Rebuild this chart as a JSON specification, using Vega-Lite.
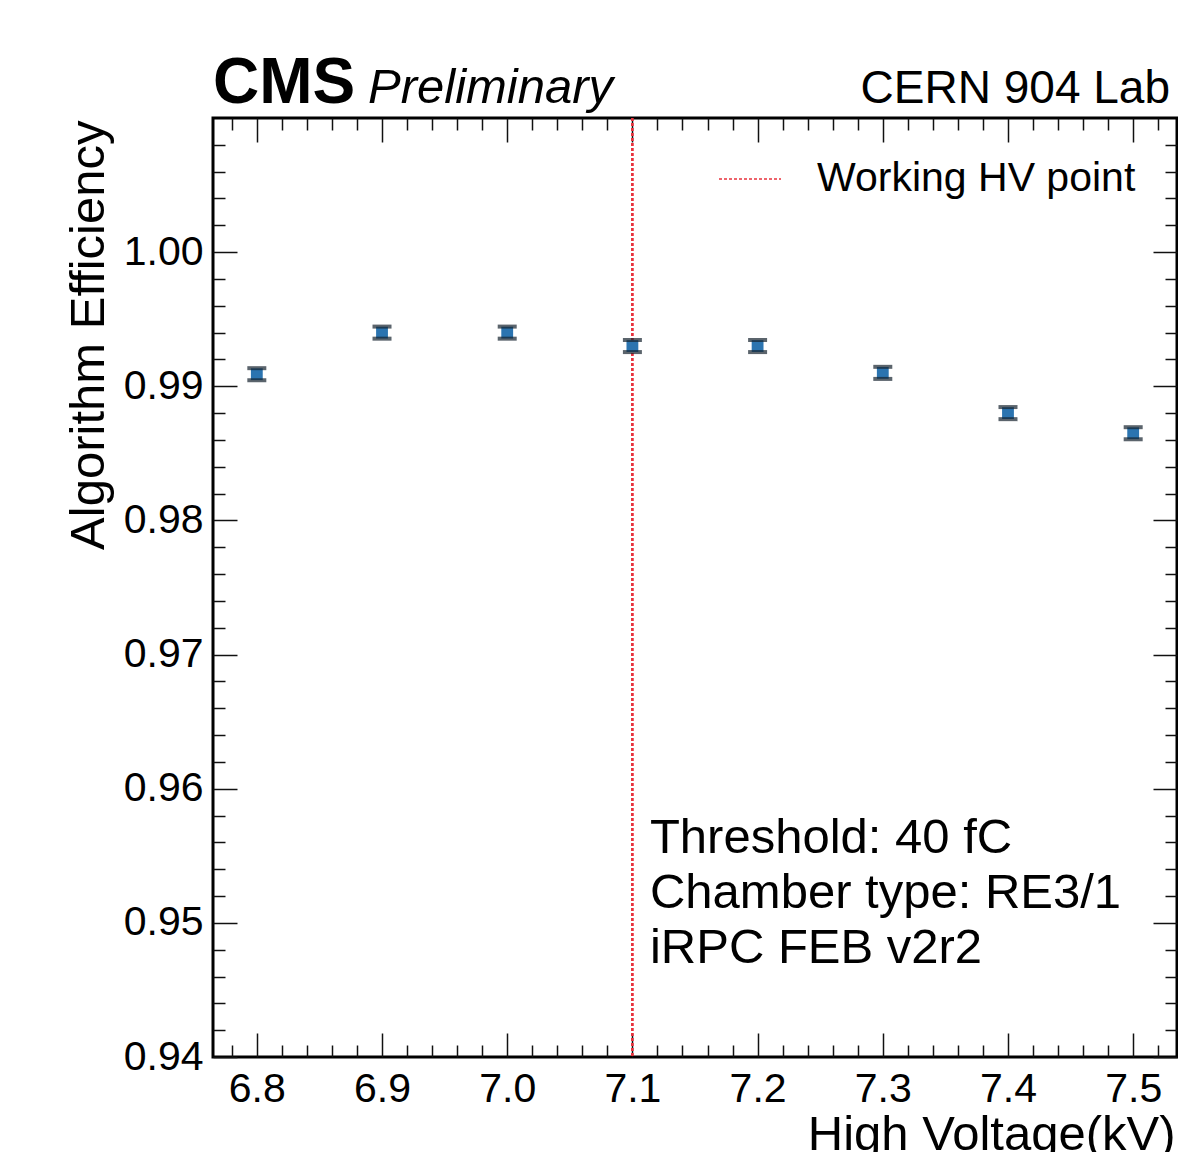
{
  "$schema": "https://vega.github.io/schema/vega-lite/v6.json",
  "width": 964,
  "height": 939,
  "autosize": {"type": "none"},
  "padding": {"left": 213, "top": 118, "right": 1, "bottom": 95},
  "background": "white",
  "config": {
    "font": "Liberation Sans",
    "view": {"stroke": "black", "strokeWidth": 3},
    "axis": {"domain": false, "grid": false, "labelColor": "black", "titleColor": "black", "tickColor": "#111111", "tickWidth": 1.5, "titleFontWeight": "normal"}
  },
  "datasets": {
    "eff": [
      {"hv": 6.8, "eff": 0.9909, "lo": 0.99045, "hi": 0.99135},
      {"hv": 6.9, "eff": 0.9940, "lo": 0.99355, "hi": 0.99445},
      {"hv": 7.0, "eff": 0.9940, "lo": 0.99355, "hi": 0.99445},
      {"hv": 7.1, "eff": 0.9930, "lo": 0.99255, "hi": 0.99345},
      {"hv": 7.2, "eff": 0.9930, "lo": 0.99255, "hi": 0.99345},
      {"hv": 7.3, "eff": 0.9910, "lo": 0.99055, "hi": 0.99145},
      {"hv": 7.4, "eff": 0.9880, "lo": 0.98755, "hi": 0.98845},
      {"hv": 7.5, "eff": 0.9865, "lo": 0.98605, "hi": 0.98695}
    ]
  },
  "resolve": {"scale": {"x": "shared", "y": "shared"}, "axis": {"x": "independent", "y": "independent"}},
  "layer": [
    {
      "data": {"name": "eff"},
      "mark": {"type": "rule", "strokeDash": [3, 2], "strokeWidth": 1.5},
      "encoding": {
        "x": {"datum": 7.1, "type": "quantitative", "scale": {"domain": [6.765, 7.535], "nice": false, "zero": false}, "axis": null},
        "color": {
          "datum": "Working HV point",
          "type": "nominal",
          "scale": {"range": ["#e8323c"]},
          "legend": {
            "title": null, "orient": "none", "legendX": 505, "legendY": 29,
            "symbolType": "stroke", "symbolSize": 3844, "symbolStrokeWidth": 1.5, "symbolDash": [3, 2],
            "labelFontSize": 41, "labelOffset": 35, "labelColor": "black", "padding": 0, "labelLimit": 600
          }
        }
      }
    },
    {
      "data": {"name": "eff"},
      "mark": {"type": "point", "shape": "square", "filled": true, "size": 140, "color": "#2b74b0", "opacity": 1},
      "encoding": {
        "x": {"field": "hv", "type": "quantitative", "scale": {"domain": [6.765, 7.535], "nice": false, "zero": false},
          "axis": {"orient": "bottom", "ticks": false, "values": [6.8, 6.9, 7.0, 7.1, 7.2, 7.3, 7.4, 7.5], "format": ".1f", "labelFontSize": 41, "labelPadding": 12,
            "title": "High Voltage(kV)", "titleFontSize": 49, "titleX": 962, "titleY": 92, "titleAlign": "right", "titleBaseline": "alphabetic", "labelFlush": false}},
        "y": {"field": "eff", "type": "quantitative", "scale": {"domain": [0.94, 1.01], "nice": false, "zero": false},
          "axis": {"orient": "left", "ticks": false, "values": [0.94, 0.95, 0.96, 0.97, 0.98, 0.99, 1.0], "format": ".2f", "labelFontSize": 41, "labelPadding": 10,
            "title": "Algorithm Efficiency", "titleFontSize": 49, "titleX": -125, "titleY": 2, "titleAngle": -90, "titleAlign": "right", "titleBaseline": "middle", "labelFlush": false}}
      }
    },
    {
      "data": {"name": "eff"},
      "mark": {"type": "tick", "orient": "horizontal", "size": 19, "thickness": 4, "color": "#15222e"},
      "encoding": {
        "x": {"field": "hv", "type": "quantitative", "scale": {"domain": [6.765, 7.535], "nice": false, "zero": false},
          "axis": {"orient": "bottom", "labels": false, "title": null, "tickSize": -24, "values": [6.8, 6.9, 7.0, 7.1, 7.2, 7.3, 7.4, 7.5]}},
        "y": {"field": "lo", "type": "quantitative", "scale": {"domain": [0.94, 1.01], "nice": false, "zero": false},
          "axis": {"orient": "left", "labels": false, "title": null, "tickSize": -24, "values": [0.94, 0.95, 0.96, 0.97, 0.98, 0.99, 1.0]}}
      }
    },
    {
      "data": {"name": "eff"},
      "mark": {"type": "tick", "orient": "horizontal", "size": 19, "thickness": 4, "color": "#15222e"},
      "encoding": {
        "x": {"field": "hv", "type": "quantitative", "scale": {"domain": [6.765, 7.535], "nice": false, "zero": false},
          "axis": {"orient": "bottom", "labels": false, "title": null, "tickSize": -12,
            "values": [6.78, 6.82, 6.84, 6.86, 6.88, 6.92, 6.94, 6.96, 6.98, 7.02, 7.04, 7.06, 7.08, 7.12, 7.14, 7.16, 7.18, 7.22, 7.24, 7.26, 7.28, 7.32, 7.34, 7.36, 7.38, 7.42, 7.44, 7.46, 7.48, 7.52]}},
        "y": {"field": "hi", "type": "quantitative", "scale": {"domain": [0.94, 1.01], "nice": false, "zero": false},
          "axis": {"orient": "left", "labels": false, "title": null, "tickSize": -12,
            "values": [0.942, 0.944, 0.946, 0.948, 0.952, 0.954, 0.956, 0.958, 0.962, 0.964, 0.966, 0.968, 0.972, 0.974, 0.976, 0.978, 0.982, 0.984, 0.986, 0.988, 0.992, 0.994, 0.996, 0.998, 1.002, 1.004, 1.006, 1.008]}}
      }
    },
    {
      "data": {"name": "eff"},
      "mark": {"type": "point", "opacity": 0},
      "encoding": {
        "x": {"field": "hv", "type": "quantitative", "scale": {"domain": [6.765, 7.535], "nice": false, "zero": false},
          "axis": {"orient": "top", "labels": false, "title": null, "tickSize": -24, "values": [6.8, 6.9, 7.0, 7.1, 7.2, 7.3, 7.4, 7.5]}},
        "y": {"field": "eff", "type": "quantitative", "scale": {"domain": [0.94, 1.01], "nice": false, "zero": false},
          "axis": {"orient": "right", "labels": false, "title": null, "tickSize": -24, "values": [0.94, 0.95, 0.96, 0.97, 0.98, 0.99, 1.0]}}
      }
    },
    {
      "data": {"name": "eff"},
      "mark": {"type": "point", "opacity": 0},
      "encoding": {
        "x": {"field": "hv", "type": "quantitative", "scale": {"domain": [6.765, 7.535], "nice": false, "zero": false},
          "axis": {"orient": "top", "labels": false, "title": null, "tickSize": -12,
            "values": [6.78, 6.82, 6.84, 6.86, 6.88, 6.92, 6.94, 6.96, 6.98, 7.02, 7.04, 7.06, 7.08, 7.12, 7.14, 7.16, 7.18, 7.22, 7.24, 7.26, 7.28, 7.32, 7.34, 7.36, 7.38, 7.42, 7.44, 7.46, 7.48, 7.52]}},
        "y": {"field": "eff", "type": "quantitative", "scale": {"domain": [0.94, 1.01], "nice": false, "zero": false},
          "axis": {"orient": "right", "labels": false, "title": null, "tickSize": -12,
            "values": [0.942, 0.944, 0.946, 0.948, 0.952, 0.954, 0.956, 0.958, 0.962, 0.964, 0.966, 0.968, 0.972, 0.974, 0.976, 0.978, 0.982, 0.984, 0.986, 0.988, 0.992, 0.994, 0.996, 0.998, 1.002, 1.004, 1.006, 1.008]}}
      }
    },
    {
      "data": {"values": [{"label": "CMS"}]},
      "mark": {"type": "text", "fontWeight": "bold", "fontSize": 64, "align": "left", "baseline": "alphabetic", "dy": -15, "color": "black"},
      "encoding": {
        "x": {"datum": 6.765, "type": "quantitative", "axis": null},
        "y": {"datum": 1.01, "type": "quantitative", "axis": null},
        "text": {"field": "label"}
      }
    },
    {
      "data": {"values": [{"label": "Preliminary"}]},
      "mark": {"type": "text", "fontStyle": "italic", "fontSize": 49, "align": "left", "baseline": "alphabetic", "dy": -15, "dx": 155, "color": "black"},
      "encoding": {
        "x": {"datum": 6.765, "type": "quantitative", "axis": null},
        "y": {"datum": 1.01, "type": "quantitative", "axis": null},
        "text": {"field": "label"}
      }
    },
    {
      "data": {"values": [{"label": "CERN 904 Lab"}]},
      "mark": {"type": "text", "fontSize": 46, "align": "right", "baseline": "alphabetic", "dy": -15, "dx": -7, "color": "black"},
      "encoding": {
        "x": {"datum": 7.535, "type": "quantitative", "axis": null},
        "y": {"datum": 1.01, "type": "quantitative", "axis": null},
        "text": {"field": "label"}
      }
    },
    {
      "data": {"values": [{"label": ["Threshold: 40 fC", "Chamber type: RE3/1", "iRPC FEB v2r2"]}]},
      "mark": {"type": "text", "fontSize": 49, "align": "left", "baseline": "alphabetic", "lineHeight": 55, "color": "black"},
      "encoding": {
        "x": {"datum": 7.114, "type": "quantitative", "axis": null},
        "y": {"datum": 0.9552, "type": "quantitative", "axis": null},
        "text": {"field": "label"}
      }
    }
  ]
}
